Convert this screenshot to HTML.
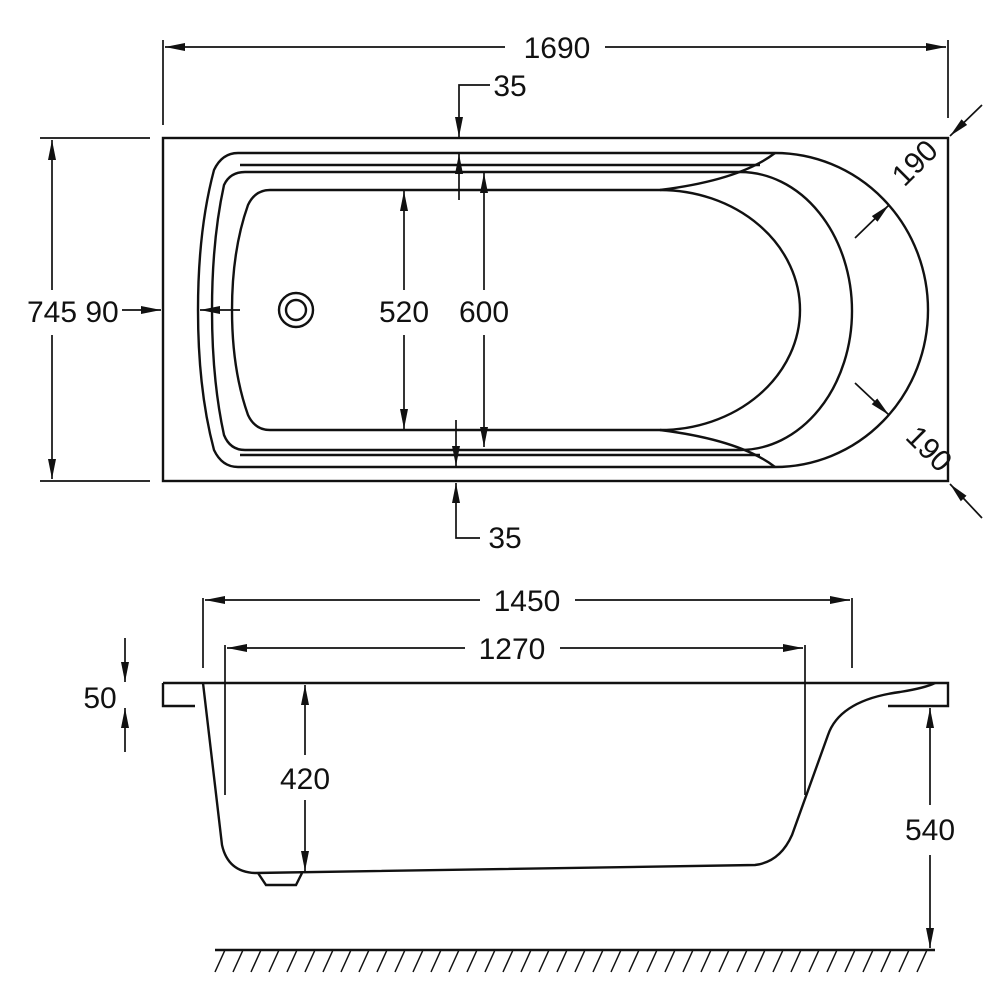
<!DOCTYPE html>
<html><head><style>body{margin:0;background:#fff}svg{display:block}text{font-family:"Liberation Sans",sans-serif;font-size:30px;fill:#111}</style></head><body>
<svg width="1005" height="1005" viewBox="0 0 1005 1005" xmlns="http://www.w3.org/2000/svg">
<defs><marker id="a" viewBox="0 0 20 8" refX="20" refY="4" markerWidth="20" markerHeight="8" markerUnits="userSpaceOnUse" orient="auto"><path d="M0,0L20,4L0,8z" fill="#111"/></marker></defs>
<g fill="none" stroke="#111" stroke-width="2.4">
<rect x="163" y="138" width="785" height="343"/>
<path d="M238,153H775A153,157 0 0 1 775,467H238Q222,467 214,450Q198,390 198,310Q198,230 214,170Q222,153 238,153Z"/>
<path d="M240,165H760M240,455H760"/>
<path d="M245,172H740A112,139 0 0 1 740,450H245Q230,450 224,435Q212,380 212,310Q212,240 224,185Q230,172 245,172Z"/>
<path d="M270,190H660A140,120 0 0 1 660,430H270Q255,430 248,415Q232,370 232,310Q232,250 248,205Q255,190 270,190Z"/>
<path d="M775,153Q740,180 660,190M775,467Q740,440 660,430"/>
<circle cx="296" cy="310" r="17"/><circle cx="296" cy="310" r="10"/>
<g stroke-width="1.7">
<path d="M163,125V40M948,118V40M40,138H150M40,481H150"/>
<path d="M505,47H165" marker-end="url(#a)"/><path d="M605,47H946" marker-end="url(#a)"/>
<path d="M490,85H459V137" marker-end="url(#a)"/><path d="M459,200V154" marker-end="url(#a)"/>
<path d="M480,538H456V483" marker-end="url(#a)"/><path d="M456,420V466" marker-end="url(#a)"/>
<path d="M484,290V173" marker-end="url(#a)"/><path d="M484,335V447" marker-end="url(#a)"/>
<path d="M404,290V191" marker-end="url(#a)"/><path d="M404,335V429" marker-end="url(#a)"/>
<path d="M52,290V140" marker-end="url(#a)"/><path d="M52,335V479" marker-end="url(#a)"/>
<path d="M122,310H161" marker-end="url(#a)"/><path d="M240,310H200" marker-end="url(#a)"/>
<path d="M855,238L889,205" marker-end="url(#a)"/><path d="M855,383L889,415" marker-end="url(#a)"/>
<path d="M982,105L950,136" marker-end="url(#a)"/><path d="M982,518L950,484" marker-end="url(#a)"/>
<path d="M203,668V598M852,668V598M225,795V645M805,795V645"/>
<path d="M480,600H205" marker-end="url(#a)"/><path d="M575,600H850" marker-end="url(#a)"/>
<path d="M465,648H227" marker-end="url(#a)"/><path d="M560,648H803" marker-end="url(#a)"/>
<path d="M125,638V682" marker-end="url(#a)"/><path d="M125,752V708" marker-end="url(#a)"/>
<path d="M305,755V685" marker-end="url(#a)"/><path d="M305,800V871" marker-end="url(#a)"/>
<path d="M930,805V708" marker-end="url(#a)"/><path d="M930,855V948" marker-end="url(#a)"/>
</g>
<path d="M163,683H948V706H888M195,706H163V683"/>
<path d="M203,683L222,845Q228,872 255,873L755,865Q780,862 792,835L828,735Q840,700 900,692Q925,688 935,683"/>
<path d="M258,873L266,885H296L302,873"/>
<path d="M215,950H935"/>
<path stroke-width="1.5" d="M225,950l-10,22M243,950l-10,22M261,950l-10,22M279,950l-10,22M297,950l-10,22M315,950l-10,22M333,950l-10,22M351,950l-10,22M369,950l-10,22M387,950l-10,22M405,950l-10,22M423,950l-10,22M441,950l-10,22M459,950l-10,22M477,950l-10,22M495,950l-10,22M513,950l-10,22M531,950l-10,22M549,950l-10,22M567,950l-10,22M585,950l-10,22M603,950l-10,22M621,950l-10,22M639,950l-10,22M657,950l-10,22M675,950l-10,22M693,950l-10,22M711,950l-10,22M729,950l-10,22M747,950l-10,22M765,950l-10,22M783,950l-10,22M801,950l-10,22M819,950l-10,22M837,950l-10,22M855,950l-10,22M873,950l-10,22M891,950l-10,22M909,950l-10,22M927,950l-10,22"/>
</g>
<g text-anchor="middle">
<text x="557" y="58">1690</text>
<text x="510" y="96">35</text>
<text x="505" y="548">35</text>
<text x="404" y="322">520</text>
<text x="484" y="322">600</text>
<text x="52" y="322">745</text>
<text x="102" y="322">90</text>
<text transform="translate(922,170) rotate(-45)">190</text>
<text transform="translate(922,456) rotate(45)">190</text>
<text x="527" y="611">1450</text>
<text x="512" y="659">1270</text>
<text x="100" y="708">50</text>
<text x="305" y="789">420</text>
<text x="930" y="840">540</text>
</g>
</svg>
</body></html>
